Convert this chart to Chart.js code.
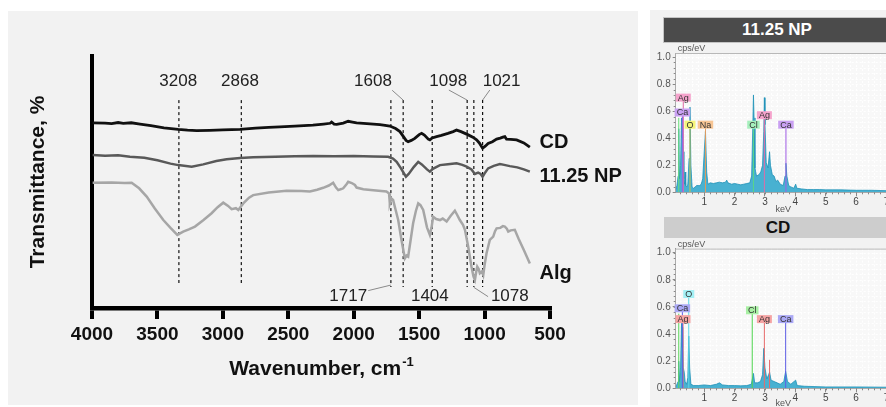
<!DOCTYPE html>
<html>
<head>
<meta charset="utf-8">
<title>FTIR and EDS</title>
<script src="https://cdn.jsdelivr.net/npm/chart.js"></script>
<style>
  html, body { margin: 0; padding: 0; background: #fff; overflow: hidden; }
  body { width: 886px; height: 407px; position: relative; font-family: Arial, "Liberation Sans", sans-serif; }
  #ftirBox { position: absolute; left: 8px; top: 11px; width: 630px; height: 394px; background: #f2f2f2; }
  #ftir { position: absolute; left: 0; top: 0; }
  #eds { position: absolute; left: 650px; top: 10px; width: 236px; height: 397px; background: #f2f2f2; overflow: hidden; }
  .hdr { position: absolute; width: 228px; font-weight: bold; font-size: 17px; text-align: center; box-sizing: border-box; }
  #hdrNp { left: 13px; top: 7px; height: 26px; line-height: 24px; background: #4b4b4b; color: #fff; border: 1px solid #c4c4c4; }
  #hdrCd { left: 14px; top: 207px; height: 21px; line-height: 21px; background: #cdcdcd; color: #111; }
  #edsNp { position: absolute; left: 0; top: 30px; }
  #edsCd { position: absolute; left: 0; top: 225px; }
</style>
</head>
<body>
  <div id="ftirBox"></div>
  <canvas id="ftir" width="640" height="407"></canvas>
  <div id="eds">
    <div class="hdr" id="hdrNp">11.25 NP</div>
    <div class="hdr" id="hdrCd">CD</div>
    <canvas id="edsNp" width="300" height="175"></canvas>
    <canvas id="edsCd" width="300" height="172"></canvas>
  </div>

  <script>
    // ---- FTIR spectra (wavenumber cm-1, transmittance in arbitrary offset units) ----
    const cdWn = [3995, 3900, 3850, 3800, 3761, 3700, 3633, 3550, 3450, 3341, 3270, 3200, 3100, 3000, 2869, 2750, 2650, 2564, 2450, 2312, 2230, 2180, 2169, 2150, 2130, 2080, 2042, 2010, 1978, 1900, 1800, 1760, 1724, 1680, 1647, 1620, 1600, 1584, 1560, 1533, 1500, 1481, 1460, 1430, 1418, 1400, 1367, 1330, 1280, 1240, 1214, 1180, 1150, 1125, 1090, 1061, 1040, 1015, 995, 973, 940, 908, 880, 860, 845, 832, 800, 755, 700, 654];
    const cdT = [73.5, 73.4, 73.2, 73.6, 73.3, 73.5, 73.0, 72.4, 71.5, 70.9, 70.6, 70.4, 70.5, 70.7, 70.9, 71.4, 71.7, 71.9, 72.2, 72.6, 73.0, 73.3, 73.8, 73.0, 72.9, 73.4, 74.1, 73.8, 73.5, 73.2, 72.8, 72.5, 72.2, 71.2, 70.0, 68.0, 66.5, 66.0, 66.5, 67.3, 68.8, 69.3, 68.6, 67.0, 66.7, 67.5, 68.0, 68.5, 69.3, 70.0, 70.6, 70.0, 69.3, 68.7, 67.8, 66.7, 65.5, 63.4, 64.2, 65.3, 66.0, 67.0, 67.4, 67.8, 68.0, 67.0, 66.9, 66.7, 65.5, 63.8];

    const npWn = [3995, 3900, 3800, 3710, 3600, 3500, 3400, 3341, 3238, 3150, 3050, 2971, 2868, 2768, 2600, 2450, 2309, 2150, 2000, 1850, 1737, 1700, 1672, 1640, 1601, 1580, 1540, 1507, 1480, 1440, 1418, 1395, 1341, 1280, 1214, 1170, 1137, 1100, 1074, 1049, 1030, 1015, 995, 973, 930, 883, 850, 807, 750, 700, 654];
    const npT = [60.7, 60.4, 60.6, 60.0, 59.6, 58.6, 57.3, 56.7, 56.1, 57.0, 58.3, 59.0, 59.5, 59.8, 60.0, 60.2, 60.3, 60.2, 60.3, 60.1, 60.0, 59.3, 58.0, 55.5, 52.1, 53.2, 56.0, 58.0, 57.0, 55.0, 54.1, 55.2, 56.7, 57.0, 57.4, 56.8, 56.1, 55.0, 53.2, 53.7, 53.2, 52.1, 53.8, 55.4, 56.4, 57.1, 56.8, 56.3, 55.8, 55.0, 54.1];

    const algWn = [3995, 3850, 3750, 3697, 3640, 3582, 3520, 3455, 3400, 3348, 3303, 3260, 3213, 3150, 3086, 3040, 2997, 2960, 2933, 2900, 2882, 2844, 2800, 2768, 2650, 2513, 2400, 2335, 2280, 2233, 2190, 2157, 2135, 2118, 2095, 2080, 2055, 2042, 2015, 1991, 1978, 1927, 1850, 1750, 1730, 1724, 1712, 1699, 1680, 1660, 1635, 1609, 1596, 1584, 1565, 1546, 1525, 1507, 1490, 1469, 1440, 1418, 1405, 1393, 1370, 1341, 1320, 1290, 1260, 1227, 1210, 1189, 1165, 1150, 1125, 1100, 1085, 1074, 1065, 1056, 1045, 1036, 1020, 1010, 1000, 985, 960, 934, 920, 908, 880, 860, 845, 830, 819, 800, 769, 740, 700, 654];
    const algT = [49.7, 49.8, 49.6, 49.7, 47.5, 44.2, 39.5, 34.9, 31.8, 29.0, 30.3, 31.2, 32.3, 34.8, 37.6, 40.0, 41.8, 40.5, 39.2, 39.6, 38.9, 41.5, 43.8, 44.8, 45.8, 46.5, 46.4, 46.2, 46.9, 47.7, 48.6, 49.7, 47.8, 46.8, 47.2, 47.5, 49.1, 50.1, 49.6, 48.8, 47.8, 47.1, 46.7, 46.2, 45.5, 41.5, 43.5, 42.9, 39.0, 34.9, 27.0, 19.7, 20.8, 20.4, 27.0, 33.6, 38.5, 41.5, 40.8, 38.9, 32.0, 29.0, 32.0, 36.2, 35.3, 34.9, 35.5, 34.3, 36.5, 38.6, 37.0, 34.9, 33.0, 31.0, 24.3, 16.4, 12.5, 11.1, 14.0, 16.4, 15.5, 13.8, 14.5, 13.1, 17.0, 21.7, 27.0, 28.3, 30.5, 31.6, 31.8, 32.5, 32.3, 31.5, 30.3, 30.8, 31.0, 27.5, 23.0, 17.7];

    const seriesNames = ['CD', '11.25 NP', 'Alg'];
    const seriesNameT = [65.5, 52.1, 13.8];
    const seriesNameWn = 580;

    // dashed marker lines
    const dashWn = [3336, 2859, 1716, 1622, 1400, 1133, 1082, 1015];
    const dashTop = [82.5, 82.5, 82.5, 82.5, 82.5, 82.5, 82.5, 82.5];
    const dashBottom = [9.9, 9.9, 8.3, 8.3, 8.3, 8.3, 8.3, 8.3];

    // peak labels
    const peakText = ['3208', '2868', '1608', '1098', '1021', '1717', '1404', '1078'];
    const peakTextWn = [3341, 2869, 1853, 1278, 870, 2042, 1418, 807];
    const peakTextT = [89.8, 89.8, 89.8, 89.8, 89.8, 4.5, 4.5, 4.5];

    // leader lines from label to marker line
    const leaderFromWn = [1706, 1273, 960, 1889, 973];
    const leaderFromT = [86.4, 86.5, 86.5, 6.9, 4.5];
    const leaderToWn = [1622, 1133, 1015, 1716, 1082];
    const leaderToT = [82.5, 82.5, 82.5, 9.1, 8.2];

    const xTicksWn = [4000, 3500, 3000, 2500, 2000, 1500, 1000, 500];

    // ---- EDS spectra (keV, cps/eV) ----
    const npKeV = [0.06, 0.10, 0.14, 0.16, 0.18, 0.22, 0.25, 0.27, 0.29, 0.31, 0.33, 0.35, 0.37, 0.39, 0.42, 0.46, 0.50, 0.53, 0.56, 0.60, 0.65, 0.70, 0.75, 0.80, 0.85, 0.90, 0.95, 1.00, 1.04, 1.08, 1.12, 1.20, 1.30, 1.40, 1.50, 1.60, 1.70, 1.74, 1.78, 1.90, 2.00, 2.10, 2.20, 2.30, 2.40, 2.50, 2.56, 2.60, 2.62, 2.64, 2.67, 2.72, 2.80, 2.86, 2.92, 2.96, 2.98, 3.00, 3.04, 3.10, 3.15, 3.18, 3.24, 3.30, 3.36, 3.42, 3.50, 3.60, 3.66, 3.69, 3.72, 3.78, 3.85, 3.95, 4.01, 4.05, 4.20, 4.40, 4.60, 4.80, 5.00, 5.50, 6.00, 6.50, 7.00, 8.00, 9.00];
    const npCps = [0.02, 0.05, 0.12, 0.47, 0.10, 0.20, 0.55, 0.40, 0.56, 0.30, 0.10, 0.06, 0.15, 0.05, 0.04, 0.06, 0.25, 0.63, 0.20, 0.04, 0.03, 0.04, 0.05, 0.05, 0.05, 0.06, 0.10, 0.30, 0.45, 0.15, 0.06, 0.07, 0.065, 0.07, 0.075, 0.07, 0.075, 0.09, 0.07, 0.06, 0.065, 0.06, 0.055, 0.06, 0.065, 0.07, 0.12, 0.50, 0.72, 0.55, 0.18, 0.12, 0.13, 0.15, 0.20, 0.45, 0.70, 0.50, 0.22, 0.18, 0.30, 0.20, 0.13, 0.12, 0.08, 0.09, 0.06, 0.05, 0.12, 0.215, 0.12, 0.05, 0.04, 0.03, 0.06, 0.03, 0.025, 0.02, 0.02, 0.02, 0.018, 0.018, 0.015, 0.015, 0.012, 0.01, 0.01];

    const cdKeV = [0.06, 0.10, 0.14, 0.16, 0.18, 0.22, 0.25, 0.27, 0.29, 0.31, 0.34, 0.37, 0.42, 0.46, 0.49, 0.52, 0.56, 0.65, 0.80, 1.00, 1.20, 1.40, 1.50, 1.60, 1.80, 2.00, 2.20, 2.40, 2.55, 2.62, 2.66, 2.75, 2.85, 2.92, 2.96, 3.00, 3.06, 3.12, 3.15, 3.20, 3.30, 3.40, 3.50, 3.62, 3.68, 3.74, 3.85, 4.01, 4.06, 4.30, 5.00, 6.00, 7.00, 9.00];
    const cdCps = [0.01, 0.03, 0.05, 0.20, 0.05, 0.15, 0.48, 0.30, 0.45, 0.15, 0.12, 0.05, 0.03, 0.08, 0.385, 0.15, 0.03, 0.02, 0.02, 0.025, 0.02, 0.03, 0.04, 0.025, 0.02, 0.02, 0.018, 0.02, 0.03, 0.11, 0.04, 0.04, 0.05, 0.10, 0.295, 0.15, 0.07, 0.10, 0.12, 0.06, 0.05, 0.04, 0.03, 0.05, 0.125, 0.05, 0.03, 0.06, 0.02, 0.015, 0.01, 0.01, 0.008, 0.008];

    // element markers
    const npElName = ['', 'Ca', 'Ag', 'O', 'Na', 'Cl', 'Ag', 'Ca'];
    const npElKeV = [0.16, 0.28, 0.31, 0.53, 1.04, 2.62, 2.98, 3.69];
    const npElCps = [0.55, 0.59, 0.70, 0.50, 0.50, 0.50, 0.57, 0.50];
    const npElBox = ['', '#c9a0f2', '#f5a3cc', '#f5f57a', '#f7c594', '#a6efbc', '#f5a3cc', '#c9a0f2'];
    const npElLine = ['#66dd77', '#a15ee6', '#e06aa8', '#c6c24a', '#e19a5e', '#5ad685', '#e06aa8', '#a15ee6'];

    const cdElName = ['', 'Ca', 'Ag', 'O', 'Cl', 'Ag', '', 'Ca'];
    const cdElKeV = [0.16, 0.28, 0.30, 0.49, 2.58, 2.98, 3.15, 3.68];
    const cdElCps = [0.55, 0.59, 0.51, 0.695, 0.575, 0.51, 0.21, 0.51];
    const cdElBox = ['', '#aaa8f5', '#f5a3a3', '#a3f0f5', '#a8f0a3', '#f5a3a3', '', '#aaa8f5'];
    const cdElLine = ['#5bd65b', '#5f5fe6', '#e66a6a', '#5ad6e6', '#4fd64f', '#e66a6a', '#e66a6a', '#5f5fe6'];

    const FONT = 'Arial, "Liberation Sans", sans-serif';
    Chart.defaults.font.family = FONT;
    Chart.defaults.animation = false;

    function pts(xs, ys) { return xs.map((v, i) => ({ x: v, y: ys[i] })); }

    // ---------- FTIR ----------
    const ftirText = {
      id: 'ftirText',
      afterDraw(chart) {
        const { ctx, chartArea: a, scales: { x, y } } = chart;
        ctx.save();
        ctx.fillStyle = '#222';
        ctx.font = '17px ' + FONT;
        ctx.textAlign = 'center';
        ctx.textBaseline = 'middle';
        peakText.forEach((t, i) => ctx.fillText(t, x.getPixelForValue(peakTextWn[i]), y.getPixelForValue(peakTextT[i])));

        ctx.fillStyle = '#111';
        ctx.font = 'bold 20px ' + FONT;
        ctx.textAlign = 'left';
        seriesNames.forEach((t, i) => ctx.fillText(t, x.getPixelForValue(seriesNameWn), y.getPixelForValue(seriesNameT[i])));

        // x title with superscript
        const main = 'Wavenumber, cm', sup = '-1';
        ctx.font = 'bold 21px ' + FONT;
        const w1 = ctx.measureText(main).width;
        ctx.font = 'bold 13px ' + FONT;
        const w2 = ctx.measureText(sup).width;
        const x0 = (a.left + a.right) / 2 - (w1 + w2) / 2;
        ctx.textBaseline = 'alphabetic';
        ctx.font = 'bold 21px ' + FONT;
        ctx.fillText(main, x0, 375);
        ctx.font = 'bold 13px ' + FONT;
        ctx.fillText(sup, x0 + w1 + 1, 366);

        // y title
        ctx.translate(38, (a.top + a.bottom) / 2);
        ctx.rotate(-Math.PI / 2);
        ctx.font = 'bold 21px ' + FONT;
        ctx.textAlign = 'center';
        ctx.textBaseline = 'middle';
        ctx.fillText('Transmittance, %', 0, 0);
        ctx.restore();
      }
    };

    const ftirSets = [
      { data: pts(algWn, algT), borderColor: '#a6a6a6', borderWidth: 2.5 },
      { data: pts(npWn, npT), borderColor: '#595959', borderWidth: 2.5 },
      { data: pts(cdWn, cdT), borderColor: '#111111', borderWidth: 2.8 }
    ];
    dashWn.forEach((w, i) => ftirSets.push({
      data: [{ x: w, y: dashTop[i] }, { x: w, y: dashBottom[i] }],
      borderColor: '#111', borderWidth: 1.2, borderDash: [3, 3]
    }));
    leaderFromWn.forEach((w, i) => ftirSets.push({
      data: [{ x: w, y: leaderFromT[i] }, { x: leaderToWn[i], y: leaderToT[i] }],
      borderColor: '#8a8a8a', borderWidth: 1
    }));
    ftirSets.forEach(d => { d.pointRadius = 0; d.fill = false; d.tension = 0; });

    new Chart(document.getElementById('ftir'), {
      type: 'line',
      data: { datasets: ftirSets },
      options: {
        responsive: false,
        layout: { padding: { top: 56, right: 90, left: 0, bottom: 0 } },
        plugins: { legend: { display: false }, tooltip: { enabled: false } },
        scales: {
          x: {
            type: 'linear', reverse: true, min: 500, max: 4000,
            afterFit: s => { s.height = 99; },
            afterBuildTicks: s => { s.ticks = xTicksWn.map(v => ({ value: v })); },
            ticks: { color: '#111', font: { size: 19, weight: 'bold' }, padding: 4, maxRotation: 0, autoSkip: false,
                     callback: v => String(v) },
            grid: { drawOnChartArea: false, drawTicks: true, tickLength: 11, tickWidth: 4, tickColor: '#000', lineWidth: 4, color: '#000' },
            border: { display: true, width: 4.5, color: '#000' }
          },
          y: {
            min: 0, max: 100, display: true,
            afterFit: s => { s.width = 92; },
            ticks: { display: false },
            grid: { display: false },
            border: { display: true, width: 4, color: '#000' }
          }
        }
      },
      plugins: [ftirText]
    });

    // ---------- EDS ----------
    const edsDeco = {
      id: 'edsDeco',
      beforeDatasetsDraw(chart) {
        const { ctx, chartArea: a, scales: { x, y } } = chart;
        ctx.save();
        ctx.fillStyle = '#f8f8f8';
        ctx.fillRect(a.left, a.top, a.right - a.left, a.bottom - a.top);
        ctx.strokeStyle = '#ffffff';
        ctx.lineWidth = 1;
        ctx.setLineDash([2, 2]);
        ctx.beginPath();
        for (let k = 0.2; k < 9; k += 0.2) {
          const px = Math.round(x.getPixelForValue(k)) + 0.5;
          ctx.moveTo(px, a.top); ctx.lineTo(px, a.bottom);
        }
        for (let c = 0.04; c < 1.03; c += 0.04) {
          const py = Math.round(y.getPixelForValue(c)) + 0.5;
          ctx.moveTo(a.left, py); ctx.lineTo(a.right, py);
        }
        ctx.stroke();
        ctx.restore();
      },
      afterDraw(chart, args, o) {
        const { ctx, chartArea: a, scales: { x, y } } = chart;
        ctx.save();
        // frame top
        ctx.strokeStyle = '#b8b8b8';
        ctx.lineWidth = 1;
        ctx.beginPath();
        ctx.moveTo(a.left, a.top + 0.5); ctx.lineTo(a.right, a.top + 0.5);
        ctx.stroke();
        // minor ticks
        ctx.strokeStyle = '#888';
        ctx.beginPath();
        for (let c = 0.04; c < 1.03; c += 0.04) {
          const py = Math.round(y.getPixelForValue(c)) + 0.5;
          ctx.moveTo(a.left - 2, py); ctx.lineTo(a.left, py);
        }
        for (let k = 0.2; k < 9; k += 0.2) {
          const px = Math.round(x.getPixelForValue(k)) + 0.5;
          ctx.moveTo(px, a.bottom); ctx.lineTo(px, a.bottom + 2);
        }
        ctx.stroke();
        // element labels
        ctx.font = '9px ' + FONT;
        ctx.textAlign = 'center';
        ctx.textBaseline = 'middle';
        o.names.forEach((n, i) => {
          if (!n) return;
          const w = ctx.measureText(n).width + 4, h = 8;
          const cx = x.getPixelForValue(o.kev[i]), cy = y.getPixelForValue(o.cps[i]);
          ctx.fillStyle = o.box[i];
          ctx.fillRect(cx - w / 2, cy - h / 2, w, h);
          ctx.fillStyle = '#333';
          ctx.fillText(n, cx, cy + 0.5);
        });
        // axis captions
        ctx.fillStyle = '#555';
        ctx.textAlign = 'left';
        ctx.fillText('cps/eV', a.left + 2, a.top - 4);
        ctx.textAlign = 'center';
        ctx.fillText('keV', x.getPixelForValue(3.6), o.kevY);
        ctx.restore();
      }
    };

    function edsChart(id, kev, cps, el, top, xh, kevY) {
      const sets = [{
        data: pts(kev, cps), fill: 'origin', borderColor: '#1f92b8',
        backgroundColor: 'rgba(52,168,204,0.9)', borderWidth: 0.8, pointRadius: 0, order: 2
      }];
      el.kev.forEach((k, i) => sets.push({
        data: [{ x: k, y: 0 }, { x: k, y: el.cps[i] }],
        borderColor: el.line[i], borderWidth: 1, pointRadius: 0, fill: false, order: 1
      }));
      return new Chart(document.getElementById(id), {
        type: 'line',
        data: { datasets: sets },
        options: {
          responsive: false,
          layout: { padding: { top: top, right: 1.7, left: 0, bottom: 0 } },
          plugins: {
            legend: { display: false }, tooltip: { enabled: false },
            edsDeco: { names: el.names, kev: el.kev, cps: el.cps, box: el.box, kevY: kevY }
          },
          scales: {
            x: {
              type: 'linear', min: 0.06, max: 9,
              afterFit: s => { s.height = xh; },
              ticks: { stepSize: 1, includeBounds: false, color: '#444', font: { size: 10 }, padding: 0, maxRotation: 0, autoSkip: false },
              grid: { drawOnChartArea: false, tickLength: 4, color: '#888' },
              border: { color: '#888' }
            },
            y: {
              min: 0, max: 1.03,
              afterFit: s => { s.width = 25.7; },
              ticks: { stepSize: 0.2, includeBounds: false, callback: v => v.toFixed(1), color: '#555', font: { size: 10 }, padding: 2 },
              grid: { drawOnChartArea: false, tickLength: 3, color: '#888' },
              border: { color: '#888' }
            }
          }
        },
        plugins: [edsDeco]
      });
    }

    edsChart('edsNp', npKeV, npCps,
      { names: npElName, kev: npElKeV, cps: npElCps, box: npElBox, line: npElLine }, 13, 22.7, 169.5);
    edsChart('edsCd', cdKeV, cdCps,
      { names: cdElName, kev: cdElKeV, cps: cdElCps, box: cdElBox, line: cdElLine }, 13.6, 18.7, 169);
  </script>
</body>
</html>
